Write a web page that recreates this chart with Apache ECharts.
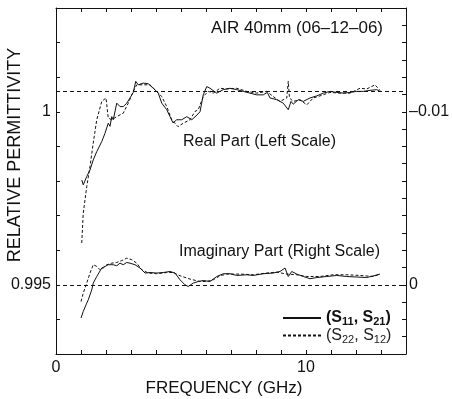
<!DOCTYPE html>
<html>
<head>
<meta charset="utf-8">
<script src="https://cdn.jsdelivr.net/npm/echarts@6/dist/echarts.min.js"></script>
<style>
html, body { margin: 0; padding: 0; background: #fff; }
#chart { width: 452px; height: 399px; }
</style>
</head>
<body>
<div id="chart"></div>
<script>
// [frequency GHz, value]
var realS11 = [
  [1.03, 0.99803], [1.09, 0.99789], [1.23, 0.99813], [1.36, 0.99832], [1.49, 0.99861],
  [1.63, 0.99885], [1.83, 0.99914], [1.96, 0.99938], [2.09, 0.99967], [2.16, 0.99958],
  [2.23, 0.99986], [2.29, 0.99977], [2.43, 1.00025], [2.56, 1.00015], [2.69, 1.00015],
  [2.83, 1.00025], [2.96, 1.0004], [3.09, 1.00056], [3.19, 1.00088], [3.29, 1.00078],
  [3.49, 1.00083], [3.69, 1.00081], [3.89, 1.00068], [4.09, 1.00054], [4.23, 1.00025],
  [4.43, 1.00006], [4.56, 0.99986], [4.68, 0.99968], [4.83, 0.99977], [5.03, 0.99977],
  [5.23, 0.99986], [5.43, 0.99977], [5.6, 0.99988], [5.76, 1.0], [5.89, 1.00049],
  [6.03, 1.00073], [6.16, 1.00068], [6.43, 1.00054], [6.69, 1.00064], [6.96, 1.00068],
  [7.23, 1.00064], [7.49, 1.00059], [7.76, 1.00054], [8.03, 1.00049], [8.29, 1.00049],
  [8.45, 1.00056], [8.56, 1.0004], [8.83, 1.00035], [9.09, 1.00025], [9.29, 1.00006],
  [9.4, 1.0003], [9.49, 1.00022], [9.69, 1.00035], [9.89, 1.0003], [10.16, 1.0004],
  [10.43, 1.00046], [10.69, 1.00054], [10.96, 1.00059], [11.23, 1.00056], [11.49, 1.00054],
  [11.76, 1.00056], [12.03, 1.00059], [12.29, 1.00059], [12.56, 1.00062], [12.83, 1.00064],
  [12.96, 1.00059]
];
var realS22 = [
  [1.03, 0.99621], [1.09, 0.99707], [1.23, 0.99784], [1.36, 0.99842], [1.49, 0.9991],
  [1.63, 0.99977], [1.83, 1.0003], [2.0, 1.0004], [2.09, 0.99982], [2.23, 0.99977],
  [2.43, 0.99986], [2.69, 0.99996], [2.89, 1.00025], [3.09, 1.00059], [3.23, 1.00078],
  [3.49, 1.00078], [3.76, 1.00078], [4.03, 1.00059], [4.23, 1.00044], [4.43, 1.00015],
  [4.63, 0.99977], [4.88, 0.99957], [5.09, 0.99967], [5.36, 0.99977], [5.56, 1.00001],
  [5.69, 1.00006], [5.89, 1.00044], [6.09, 1.00059], [6.29, 1.00054], [6.56, 1.00068],
  [6.83, 1.00066], [7.23, 1.00068], [7.63, 1.00059], [8.03, 1.00054], [8.43, 1.00059],
  [8.69, 1.00044], [8.96, 1.0003], [9.23, 1.0004], [9.29, 1.00088], [9.34, 1.0004],
  [9.49, 1.0003], [9.76, 1.00035], [10.03, 1.0002], [10.29, 1.0004], [10.56, 1.00046],
  [10.96, 1.00056], [11.36, 1.00054], [11.76, 1.00054], [12.16, 1.00068], [12.43, 1.00066],
  [12.76, 1.00078], [12.96, 1.00062]
];
var imagS11 = [
  [1.0, 0.00192], [1.09, 0.00154], [1.16, 0.00145], [1.23, 0.00106], [1.29, 0.00087],
  [1.36, 0.00097], [1.43, 0.00029], [1.49, -0.0001], [1.63, -0.00048], [1.83, -0.00097],
  [1.96, -0.00106], [2.09, -0.00116], [2.29, -0.00116], [2.43, -0.0011], [2.56, -0.00125],
  [2.69, -0.00116], [2.83, -0.00129], [2.96, -0.00125], [3.16, -0.00116], [3.36, -0.00097],
  [3.56, -0.00068], [3.76, -0.00071], [4.03, -0.00068], [4.29, -0.00071], [4.56, -0.00077],
  [4.76, -0.00068], [4.96, -0.00029], [5.16, 0.0], [5.29, 0.0001], [5.49, -0.0001],
  [5.69, -0.00019], [5.89, -0.00025], [6.16, -0.00019], [6.43, -0.00048], [6.69, -0.00064],
  [6.96, -0.00064], [7.23, -0.00054], [7.63, -0.00058], [7.89, -0.00054], [8.29, -0.00064],
  [8.69, -0.00068], [8.96, -0.00077], [9.16, -0.00097], [9.29, -0.00048], [9.43, -0.00077],
  [9.63, -0.00062], [9.89, -0.00048], [10.16, -0.00035], [10.43, -0.00042], [10.83, -0.00048],
  [11.23, -0.00054], [11.63, -0.00048], [12.03, -0.00045], [12.43, -0.00042], [12.76, -0.00054],
  [12.96, -0.00062]
];
var imagS22 = [
  [1.0, 0.00097], [1.09, 0.00048], [1.23, -0.0001], [1.36, -0.00068], [1.49, -0.00116],
  [1.63, -0.00106], [1.76, -0.00087], [1.89, -0.00097], [2.03, -0.00116], [2.23, -0.00125],
  [2.43, -0.00129], [2.63, -0.0014], [2.83, -0.00154], [3.03, -0.00145], [3.23, -0.00125],
  [3.43, -0.00087], [3.69, -0.00068], [4.03, -0.00064], [4.43, -0.00071], [4.69, -0.00071],
  [4.96, -0.00052], [5.36, -0.00033], [5.76, -0.00019], [6.03, -0.00019], [6.29, -0.00029],
  [6.56, -0.00052], [6.83, -0.00062], [7.36, -0.00062], [7.89, -0.00058], [8.43, -0.00068],
  [8.83, -0.00073], [9.23, -0.00062], [9.63, -0.00058], [10.03, -0.00048], [10.56, -0.00048],
  [11.09, -0.00058], [11.63, -0.00058], [12.16, -0.00054], [12.69, -0.00048], [12.96, -0.00062]
];
var airLine = 1.00059;
var zeroLine = 0.995;
var xLabels = [0, 10];
var rightLabels = { '-0.01': '\u20130.01', '0': '0' };

var font = '"Liberation Sans", Arial, sans-serif';
var black = '#111';

function near(v, list) {
  for (var i = 0; i < list.length; i++) {
    if (Math.abs(v - list[i]) < 1e-7) return true;
  }
  return false;
}

var chart = echarts.init(document.getElementById('chart'), null, { renderer: 'canvas' });

var axisBase = {
  axisLine: { show: true, onZero: false, lineStyle: { color: black, width: 1 } },
  axisTick: { show: true, inside: true, length: 4, lineStyle: { color: black } },
  splitLine: { show: false },
  axisLabel: { color: black, fontSize: 16, fontFamily: font }
};

// horizontal dashed guides drawn across the whole frequency range
function hLine(v) {
  return [{ coord: [0, v] }, { coord: [14, v] }];
}

var option = {
  animation: false,
  backgroundColor: '#fff',
  grid: { left: 56, top: 8, right: 46, bottom: 45, outerBoundsMode: 'none' },
  legend: {
    orient: 'vertical',
    left: 277,
    top: 305,
    itemWidth: 38,
    itemHeight: 14,
    itemGap: 0,
    data: ['S11S21', 'S22S12'],
    itemStyle: { color: 'rgba(0,0,0,0)', borderWidth: 0, opacity: 0 },
    formatter: function (name) {
      if (name === 'S11S21') return '{b|(S}{bs|11}{b|, S}{bs|21}{b|)}';
      return '{n|(S}{ns|22}{n|, S}{ns|12}{n|)}';
    },
    textStyle: {
      color: black,
      fontFamily: font,
      rich: {
        b: { fontSize: 16, fontWeight: 'bold', color: black, fontFamily: font, lineHeight: 19 },
        bs: { fontSize: 11, fontWeight: 'bold', color: black, fontFamily: font, verticalAlign: 'bottom' },
        n: { fontSize: 16, color: '#222', fontFamily: font, lineHeight: 19 },
        ns: { fontSize: 11, color: '#222', fontFamily: font, verticalAlign: 'bottom' }
      }
    }
  },
  xAxis: [
    Object.assign({}, axisBase, {
      type: 'value', position: 'bottom', min: 0, max: 14, interval: 1,
      axisLabel: Object.assign({}, axisBase.axisLabel, {
        margin: 6,
        formatter: function (v) { return near(v, xLabels) ? String(v) : ''; }
      })
    }),
    Object.assign({}, axisBase, {
      type: 'value', position: 'top', min: 0, max: 14, interval: 1,
      axisLabel: { show: false }
    })
  ],
  yAxis: [
    Object.assign({}, axisBase, {
      type: 'value', position: 'left', min: 0.993, max: 1.003, interval: 0.001,
      axisLabel: Object.assign({}, axisBase.axisLabel, {
        margin: 5,
        formatter: function (v) {
          if (near(v, [1])) return '1';
          if (near(v, [0.995])) return '0.995';
          return '';
        }
      })
    }),
    Object.assign({}, axisBase, {
      type: 'value', position: 'right', inverse: true, min: -0.016, max: 0.004, interval: 0.001,
      axisLabel: Object.assign({}, axisBase.axisLabel, {
        margin: 3,
        formatter: function (v) {
          if (Math.abs(v + 0.01) < 1e-9) return rightLabels['-0.01'];
          if (Math.abs(v) < 1e-9) return rightLabels['0'];
          return '';
        }
      })
    })
  ],
  series: [
    {
      name: 'S11S21', type: 'line', xAxisIndex: 0, yAxisIndex: 0, data: realS11,
      symbol: 'none', lineStyle: { color: black, width: 1 }, itemStyle: { color: black },
      markLine: {
        silent: true, symbol: ['none', 'none'], label: { show: false }, precision: 6,
        lineStyle: { color: black, width: 1, type: [4, 3] },
        data: [hLine(airLine), hLine(zeroLine)]
      }
    },
    {
      name: 'S22S12', type: 'line', xAxisIndex: 0, yAxisIndex: 0, data: realS22,
      symbol: 'none', lineStyle: { color: black, width: 1, type: [3, 2] }, itemStyle: { color: black }
    },
    {
      name: 'S11S21', type: 'line', xAxisIndex: 0, yAxisIndex: 1, data: imagS11,
      symbol: 'none', lineStyle: { color: black, width: 1 }, itemStyle: { color: black }
    },
    {
      name: 'S22S12', type: 'line', xAxisIndex: 0, yAxisIndex: 1, data: imagS22,
      symbol: 'none', lineStyle: { color: black, width: 1, type: [3, 2] }, itemStyle: { color: black }
    }
  ],
  graphic: [
    {
      type: 'text', x: 383, y: 28,
      style: { text: 'AIR 40mm (06\u201312\u201306)', fill: black, fontSize: 17, fontFamily: font, textAlign: 'right', textVerticalAlign: 'middle' }
    },
    {
      type: 'text', x: 183, y: 142,
      style: { text: 'Real Part (Left Scale)', fill: black, fontSize: 16, fontFamily: font, textAlign: 'left', textVerticalAlign: 'middle' }
    },
    {
      type: 'text', x: 179, y: 252,
      style: { text: 'Imaginary Part (Right Scale)', fill: black, fontSize: 16, fontFamily: font, textAlign: 'left', textVerticalAlign: 'middle' }
    },
    {
      type: 'text', x: 15, y: 155, rotation: Math.PI / 2,
      style: { text: 'RELATIVE PERMITTIVITY', fill: black, fontSize: 18, fontFamily: font, textAlign: 'center', textVerticalAlign: 'middle' }
    },
    {
      type: 'text', x: 224, y: 388,
      style: { text: 'FREQUENCY (GHz)', fill: black, fontSize: 17, fontFamily: font, textAlign: 'center', textVerticalAlign: 'middle' }
    }
  ]
};

chart.setOption(option);
</script>
</body>
</html>
